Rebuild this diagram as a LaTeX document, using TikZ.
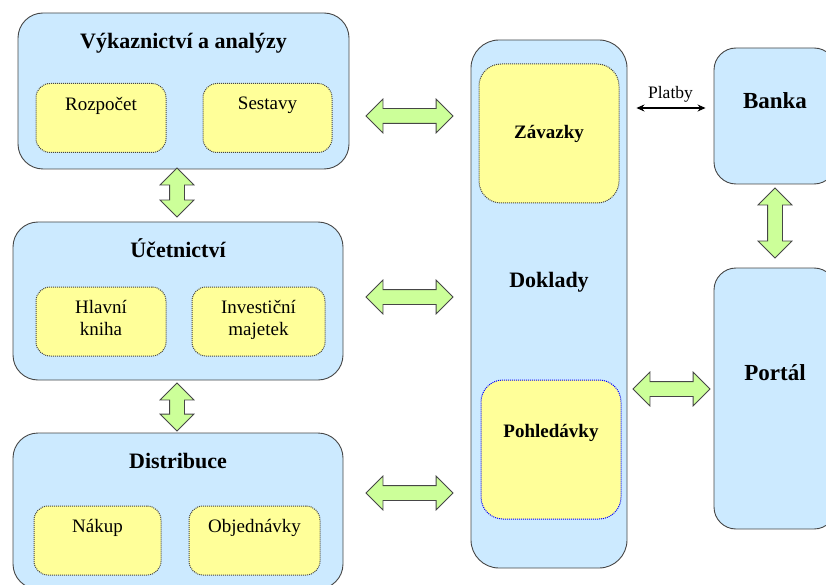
\documentclass[tikz,border=0pt]{standalone}
\usepackage{fontspec}
\setmainfont{Liberation Serif}
\usepackage{tikz}
\usetikzlibrary{shapes,arrows,positioning,calc,arrows.meta}
\definecolor{modulecolor}{RGB}{204, 234, 255}
\definecolor{subcolor}{RGB}{255, 255, 153}
\definecolor{linkcolor}{RGB}{204, 255, 153}
\definecolor{edgecolor}{RGB}{70, 70, 70}

\begin{document}
\begin{tikzpicture}[
    x=1pt, y=-1pt,
    mnode/.style={rectangle, rounded corners=25pt, draw=edgecolor, fill=modulecolor, line width=0.9pt, inner sep=0pt},
    snode/.style={rectangle, rounded corners=14pt, draw=edgecolor, densely dotted, fill=subcolor, line width=1pt, inner sep=0pt, minimum height=69pt},
    ttl/.style={inner sep=0pt, font=\fontsize{22}{24}\selectfont\bfseries, text height=15pt, text depth=4pt},
    subtext/.style={inner sep=0pt, font=\fontsize{19}{22}\selectfont, align=center},
    link/.style={double arrow, draw=edgecolor, fill=linkcolor, line width=0.8pt, inner xsep=0pt, inner ysep=7pt,
        double arrow head extend=9.5pt, double arrow tip angle=90},
    pay/.style={{Stealth[length=8pt,width=7pt]}-{Stealth[length=8pt,width=7pt]}, line width=1.2pt}
]
    \useasboundingbox (0,0) rectangle (826,585);

    % Modules (left column)
    \node[mnode, minimum width=331pt, minimum height=156pt] (vyk) at (183.5, 91) {};
    \node[mnode, minimum width=330pt, minimum height=158pt] (uce) at (178, 301) {};
    \node[mnode, minimum width=330pt, minimum height=156pt] (dis) at (178, 511) {};

    \node[ttl, below=21pt of vyk.north] (vykttl) {Výkaznictví a analýzy};
    \node[ttl, below=21pt of uce.north] (ucettl) {Účetnictví};
    \node[ttl, below=21pt of dis.north] (disttl) {Distribuce};

    % Sub-modules
    \node[snode, minimum width=130pt] (rozpocet) at (101, 118) {};
    \node[snode, minimum width=129pt] (sestavy) at (267.5, 118) {};
    \node[snode, minimum width=130pt] (kniha) at (101, 321.5) {};
    \node[snode, minimum width=133pt] (majetek) at (258.5, 321.5) {};
    \node[snode, minimum width=127pt] (nakup) at (97.5, 540.5) {};
    \node[snode, minimum width=131pt] (objed) at (254.5, 540.5) {};

    \node[subtext, below=14pt of rozpocet.north] (rozpocettxt) {Rozpočet};
    \node[subtext, below=14pt of sestavy.north] (sestavytxt) {Sestavy};
    \node[subtext, below=14pt of kniha.north] (knihatxt) {Hlavní\\kniha};
    \node[subtext, below=14pt of majetek.north] (majetektxt) {Investiční\\majetek};
    \node[subtext, below=14pt of nakup.north] (nakuptxt) {Nákup};
    \node[subtext, below=14pt of objed.north] (objedtxt) {Objednávky};

    % Doklady
    \node[mnode, rounded corners=28pt, minimum width=156pt, minimum height=528pt] (doklady) at (549, 304) {};
    \node[ttl] (dokladyttl) at (549, 282) {Doklady};
    \node[snode, rounded corners=22pt, minimum width=140pt, minimum height=139pt,
        font=\fontsize{19}{22}\selectfont\bfseries] (zavazky) at (549, 133.5) {Závazky};
    \node[snode, draw=blue, rounded corners=22pt, minimum width=140pt, minimum height=139pt] (pohled) at (551, 449.5) {};
    \node[subtext, font=\fontsize{19}{22}\selectfont\bfseries] (pohledtxt) at (551, 433) {Pohledávky};

    % Banka, Portal
    \node[mnode, rounded corners=22pt, minimum width=122pt, minimum height=136pt] (banka) at (775, 116) {};
    \node[ttl, font=\fontsize{23}{25}\selectfont\bfseries] (bankattl) at (775, 103) {Banka};
    \node[mnode, rounded corners=22pt, minimum width=122pt, minimum height=261pt] (portal) at (775, 398.5) {};
    \node[ttl, font=\fontsize{23}{25}\selectfont\bfseries] (portalttl) at (775, 375) {Portál};

    % Block arrows
    \foreach \y/\n in {116/a, 297/b, 493/c} {
        \node[link, minimum height=87pt] (link\n) at (409.5, \y) {};
    }
    \node[link, minimum height=77pt] (linkp) at (671.5, 389) {};
    \node[link, rotate=90, minimum height=49pt] (linkvu) at (177, 192.5) {};
    \node[link, rotate=90, minimum height=48pt] (linkud) at (177, 407) {};
    \node[link, rotate=90, minimum height=70pt] (linkbp) at (775, 223) {};

    % Platby
    \coordinate (platby) at (0, 108);
    \draw[pay, shorten <=9pt, shorten >=8pt] (doklady.east |- platby) -- (banka.west |- platby)
        node[midway, above=5pt, inner sep=0pt, font=\fontsize{17.5}{20}\selectfont] (platbytxt) {Platby};
\end{tikzpicture}
\end{document}
